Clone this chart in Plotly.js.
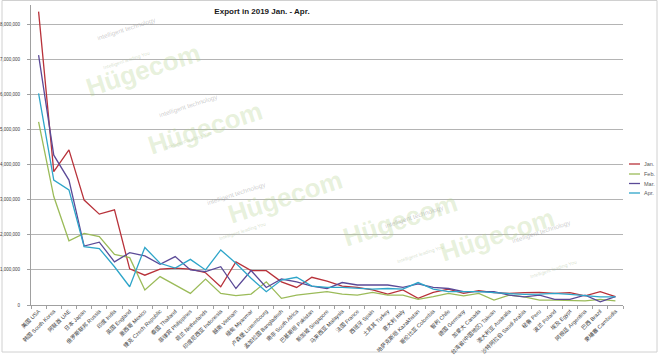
<!DOCTYPE html>
<html><head><meta charset="utf-8">
<script src="https://cdn.plot.ly/plotly-3.0.1.min.js"></script>
<style>html,body{margin:0;padding:0;background:#fff}#chart{width:660px;height:358px}</style>
</head><body><div id="chart"></div>
<script>
const countries = ["美国 USA","韩国 South Korea","阿联酋 UAE","日本 Japan","俄罗斯联邦 Russia","印度 India","英国 England","墨西哥 Mexico","捷克 Czech Republic","泰国 Thailand","菲律宾 Philippines","荷兰 Netherlands","印度尼西亚 Indonesia","越南 Vietnam","缅甸 Myanmar","卢森堡 Luxembourg","孟加拉国 Bangladesh","南非 South Africa","巴基斯坦 Pakistan","新加坡 Singapore","马来西亚 Malaysia","法国 France","西班牙 Spain","土耳其 Turkey","意大利 Italy","哈萨克斯坦 Kazakhstan","哥伦比亚 Colombia","智利 Chile","德国 Germany","加拿大 Canada","台湾省(中国地区) Taiwan","澳大利亚 Australia","沙特阿拉伯 Saudi Arabia","秘鲁 Peru","波兰 Poland","埃及 Egypt","阿根廷 Argentina","巴西 Brazil","柬埔寨 Cambodia"];
const seriesNames = ["Jan.","Feb.","Mar.","Apr."];
const jan = [8360000,3800000,4420000,2990000,2590000,2710000,1030000,850000,1020000,1050000,1020000,920000,520000,1230000,980000,980000,660000,500000,790000,680000,540000,500000,430000,310000,430000,190000,360000,450000,330000,410000,350000,330000,350000,360000,330000,350000,260000,380000,240000];
const feb = [5220000,3090000,1830000,2040000,1950000,1440000,1350000,430000,810000,570000,330000,740000,330000,270000,310000,660000,190000,280000,330000,380000,310000,280000,360000,280000,280000,160000,240000,330000,260000,330000,140000,280000,230000,140000,140000,140000,120000,160000,120000];
const mar = [7120000,4270000,3560000,1680000,1790000,1230000,1490000,1400000,1160000,1380000,1000000,950000,1090000,470000,980000,500000,740000,660000,540000,470000,640000,570000,570000,570000,500000,600000,500000,470000,380000,380000,380000,280000,230000,280000,160000,160000,280000,90000,240000];
const apr = [6030000,3560000,3280000,1660000,1610000,1090000,520000,1640000,1190000,1050000,1300000,1000000,1570000,1190000,760000,380000,710000,790000,540000,500000,500000,470000,450000,470000,450000,640000,450000,380000,380000,380000,350000,330000,300000,310000,330000,300000,270000,230000,230000];
const yTicks = [0,1000000,2000000,3000000,4000000,5000000,6000000,7000000,8000000];
const watermarkWord = "Hügecom";
const watermarkTop = "intelligent technology";
const watermarkBottom = "Intelligent leading You";

const colors = ["#b8323a","#9bbb59","#5b4a97","#2ea5c9"];
const values = [jan, feb, mar, apr];

const traces = values.map((v,i)=>({
  type:"scatter", mode:"lines", x:countries, y:v, name:seriesNames[i],
  line:{color:colors[i], width:1.3}, showlegend:false, hoverinfo:"skip"
}));

const L=31, R=623, T=5, B=305;
const px = x => (x-L)/(R-L);
const py = y => (B-y)/(B-T);

const shapes = [];
const annotations = [];
// outer border
shapes.push({type:"rect", xref:"paper", yref:"paper", x0:px(2), x1:px(657), y0:py(352), y1:py(0.5), line:{color:"#d0d0d0", width:1}, layer:"below"});
// legend
const legY = [164,174,183.5,193];
seriesNames.forEach((n,i)=>{
  shapes.push({type:"line", xref:"paper", yref:"paper", x0:px(629), x1:px(640), y0:py(legY[i]), y1:py(legY[i]), line:{color:colors[i], width:1.3}});
  annotations.push({xref:"paper", yref:"paper", x:px(641.5), y:py(legY[i]), xanchor:"left", yanchor:"middle", text:n, showarrow:false, font:{size:5.5, color:"#595959", family:"Liberation Sans, Arial"}});
});
// watermarks
const wm = [[80,35],[142,128],[222,232],[400,255],[560,270]];
wm.forEach(([x,y])=>{
  annotations.push({xref:"paper", yref:"paper", x:px(x), y:py(y), text:watermarkWord, showarrow:false, textangle:-18, font:{size:26, color:"rgba(175,208,135,0.3)", family:"Liberation Sans, Arial", weight:700}});
  annotations.push({xref:"paper", yref:"paper", x:px(x+14), y:py(y-22), text:watermarkTop, showarrow:false, textangle:-18, font:{size:6.5, color:"rgba(140,140,140,0.45)", family:"Liberation Sans, Arial"}});
  annotations.push({xref:"paper", yref:"paper", x:px(x+20), y:py(y+12), text:watermarkBottom, showarrow:false, textangle:-18, font:{size:5, color:"rgba(170,190,150,0.45)", family:"Liberation Sans, Arial"}});
});

const layout = {
  width:660, height:358,
  margin:{l:L, r:660-R, t:T, b:358-B, pad:0},
  paper_bgcolor:"#ffffff", plot_bgcolor:"#ffffff",
  title:{text:"Export in 2019 Jan. - Apr.", x:262/660, xref:"container", xanchor:"center", y:1-11/358, yref:"container", yanchor:"middle", font:{size:8, color:"#1a1a1a", family:"Liberation Sans Narrow, Liberation Sans, Arial", weight:600}},
  xaxis:{type:"category", tickangle:-45, tickson:"boundaries", ticks:"outside", ticklen:3, tickcolor:"#a0a0a0", showgrid:false, showline:true, linecolor:"#a0a0a0", linewidth:1, tickfont:{size:5.5, color:"#404040", family:"Liberation Sans, Noto Sans CJK SC, Arial"}, automargin:false, range:[-0.5,38.5]},
  yaxis:{range:[0,8550000], tickvals:yTicks, ticktext:yTicks.map(v=>v.toLocaleString("en-US")), ticks:"outside", ticklen:3, tickcolor:"#a0a0a0", showgrid:true, gridcolor:"#b4b4b4", gridwidth:1, showline:true, linecolor:"#a0a0a0", zeroline:false, tickfont:{size:4.5, color:"#404040", family:"Liberation Sans, Arial"}, ticklabelstandoff:6, automargin:false},
  shapes, annotations, showlegend:false
};
Plotly.newPlot("chart", traces, layout, {staticPlot:true, displayModeBar:false});
</script></body></html>
